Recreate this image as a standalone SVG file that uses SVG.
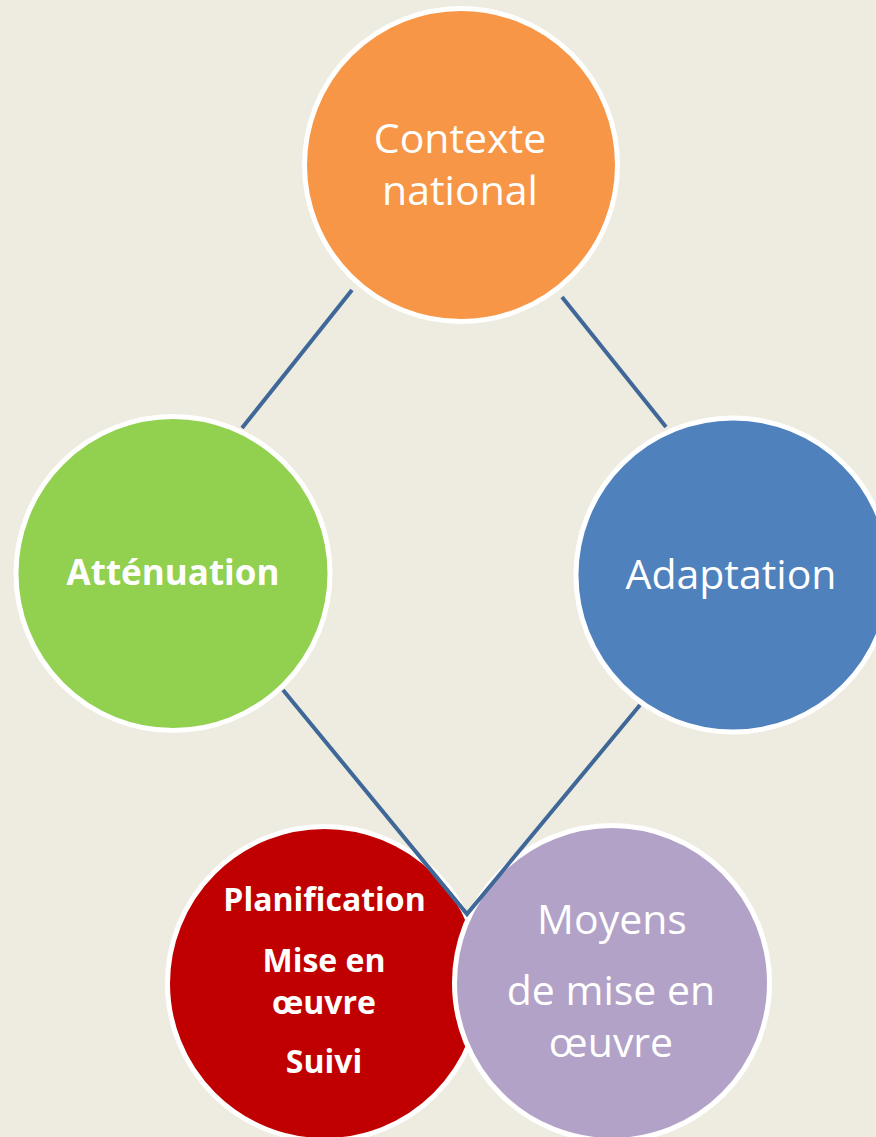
<svg xmlns="http://www.w3.org/2000/svg" width="876" height="1137" viewBox="0 0 876 1137">
<style>
.node{stroke:#FFFFFF;stroke-width:5}
.t{font-family:"Open Sans","Noto Sans","Liberation Sans",sans-serif;fill:#FFFFFF;text-anchor:middle;font-size:41px}
.b{font-weight:bold}
.conn{stroke:#3F6797;stroke-width:4;fill:none;stroke-linecap:butt}
</style>
<rect x="0" y="0" width="876" height="1137" fill="#EEEBE0"/>
<g id="contexte">
<circle class="node" cx="461" cy="165" r="156.5" fill="#F79646"/>
<text class="t" x="460" y="153">Contexte</text>
<text class="t" x="460" y="205">national</text>
</g>
<g id="attenuation">
<circle class="node" cx="173" cy="573.5" r="157" fill="#92D050"/>
<text class="t b" x="173" y="585" style="font-size:35px">Atténuation</text>
</g>
<g id="adaptation">
<circle class="node" cx="733" cy="575" r="157" fill="#4F81BD"/>
<text class="t" x="731" y="589">Adaptation</text>
</g>
<g id="planification">
<circle class="node" cx="324.5" cy="983.5" r="157" fill="#C00000"/>
<text class="t b" x="324.5" y="911" style="font-size:32px">Planification</text>
<text class="t b" x="324" y="972" style="font-size:32px">Mise en</text>
<text class="t b" x="324" y="1014" style="font-size:32px">œuvre</text>
<text class="t b" x="324" y="1073" style="font-size:32px">Suivi</text>
</g>
<g id="moyens">
<circle class="node" cx="612" cy="983" r="157.5" fill="#B2A2C7"/>
<text class="t" x="612" y="934">Moyens</text>
<text class="t" x="611" y="1005">de mise en</text>
<text class="t" x="611" y="1057">œuvre</text>
</g>
<g id="connectors">
<line class="conn" x1="352" y1="290" x2="242" y2="428"/>
<line class="conn" x1="562" y1="297" x2="666" y2="427"/>
<polyline class="conn" points="283,690 467,914 640,705" stroke-linejoin="miter"/>
</g>
</svg>
